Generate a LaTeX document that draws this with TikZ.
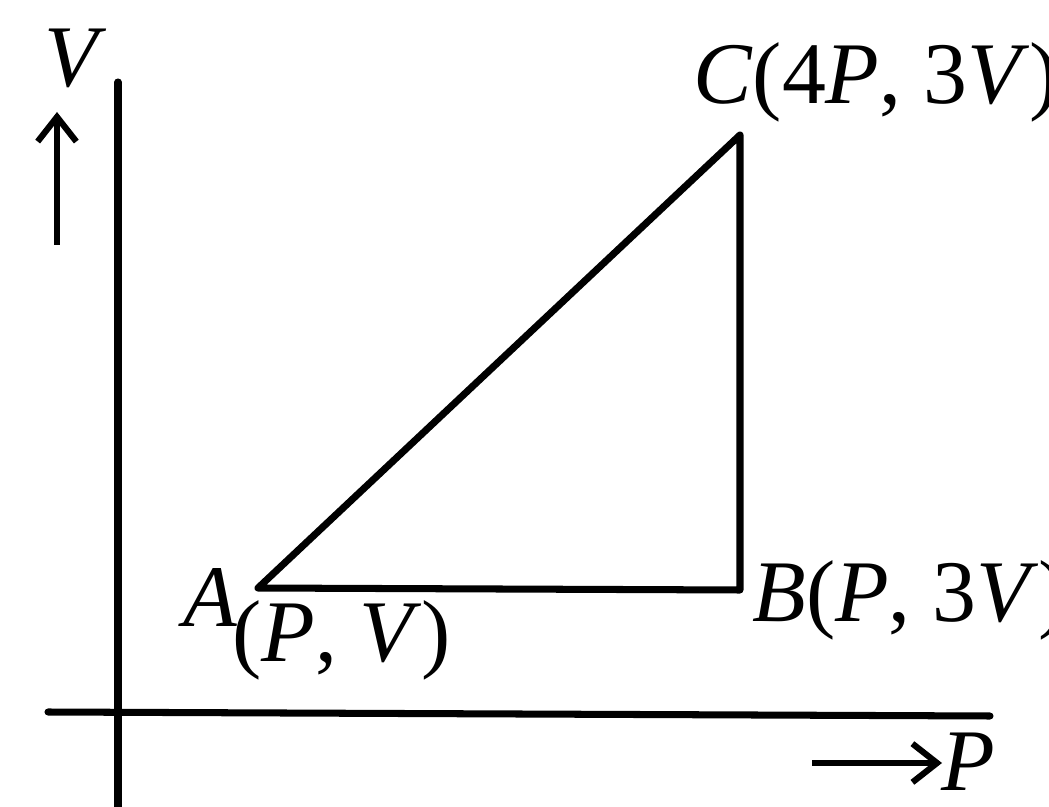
\documentclass[tikz,border=0pt]{standalone}
\usepackage{fontspec}
\setmainfont{Liberation Serif}
\usetikzlibrary{arrows.meta}
\newcommand{\iv}[1]{\textit{#1}}
\begin{document}
\begin{tikzpicture}[x=0.02cm,y=-0.02cm,
  ln/.style={line width=4pt,line cap=round, line join=round},
  lbl/.style={font=\fontsize{50}{54}\selectfont, inner sep=0pt},
  arr/.style={line width=3.5pt,-{Straight Barb[length=14pt,width=22pt,line width=3.5pt]}}]
\useasboundingbox (0,0) rectangle (1049,807);
% axes
\coordinate (ytop) at (118,82);
\coordinate (ybot) at (118,807);
\coordinate (xl) at (48,712);
\coordinate (xr) at (990,716);
\draw[ln] (ytop) -- (ybot);
\draw[ln] (xl) -- (xr);
% points
\coordinate (A) at (258,588);
\coordinate (B) at (740,590);
\coordinate (C) at (740,135);
\draw[ln] (A) -- (B) -- (C) -- cycle;
% axis labels
\node[lbl] (vl) at (76,58) {\iv{V}};
\coordinate (va0) at (57,245);
\coordinate (va1) at (57,112);
\draw[arr] (va0) -- (va1);
\coordinate (pa0) at (812,763);
\coordinate (pa1) at (942,763);
\draw[arr] (pa0) -- (pa1);
\node[lbl, anchor=base] (pl) at (968,790) {\iv{P}};
% point labels
\node[lbl] (al) at (210,598) {\iv{A}};
\node[lbl, anchor=west] (avl) at (232,640) {(\iv{P}, \iv{V})};
\node[lbl, anchor=west] (bl) at (752,600) {\iv{B}(\iv{P}, 3\iv{V})};
\node[lbl, anchor=west] (cl) at (693,82) {\iv{C}(4\iv{P}, 3\iv{V})};
\end{tikzpicture}
\end{document}
